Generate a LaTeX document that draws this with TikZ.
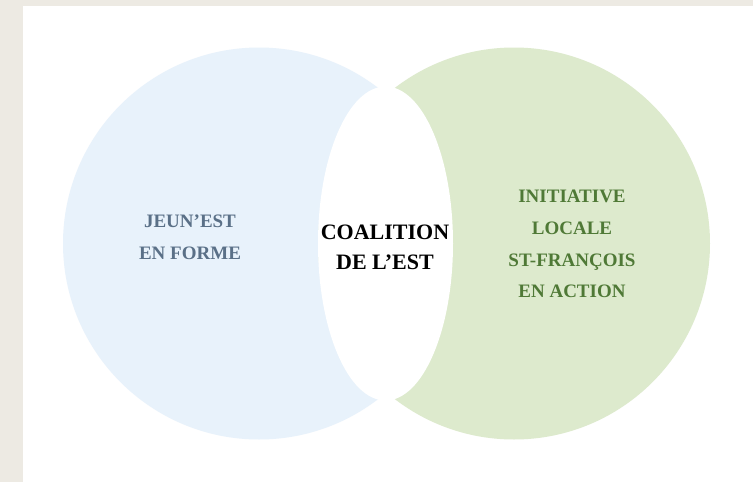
\documentclass[tikz,border=0pt]{standalone}
\usepackage{fontspec}
\setmainfont{Liberation Serif}
\usetikzlibrary{shapes.geometric}
\definecolor{beigebg}{RGB}{237,234,227}
\definecolor{bluefill}{RGB}{232,242,251}
\definecolor{greenfill}{RGB}{221,234,205}
\definecolor{bluetext}{RGB}{90,112,135}
\definecolor{greentext}{RGB}{79,121,54}
\tikzset{
  vcircle/.style={circle, minimum size=392pt, inner sep=0pt, draw=none},
  lens/.style={ellipse, minimum width=135pt, minimum height=314pt, inner sep=0pt, fill=white, draw=none},
  sidetext/.style={font=\bfseries\fontsize{19}{31.8}\selectfont, align=center, inner sep=0pt},
  midtext/.style={font=\bfseries\fontsize{22}{30}\selectfont, align=center, inner sep=0pt, text=black}
}
\begin{document}
\begin{tikzpicture}[x=1pt,y=-1pt]
  \fill[beigebg] (0,0) rectangle (753,482);
  \fill[white] (23,6) rectangle (753,482);
  \useasboundingbox (0,0) rectangle (753,482);
  \node[vcircle, fill=bluefill] (left) at (259,243.5) {};
  \node[vcircle, fill=greenfill] (right) at (514,243.5) {};
  \node[lens] (mid) at (385.5,243.5) {};
  \node[sidetext, text=bluetext] (lefttext) at (190,237.5) {JEUN’EST\\EN FORME};
  \node[midtext] (midtext) at (385,247.5) {COALITION\\DE L’EST};
  \node[sidetext, text=greentext] (righttext) at (572,244) {INITIATIVE\\LOCALE\\ST-FRANÇOIS\\EN ACTION};
\end{tikzpicture}
\end{document}
